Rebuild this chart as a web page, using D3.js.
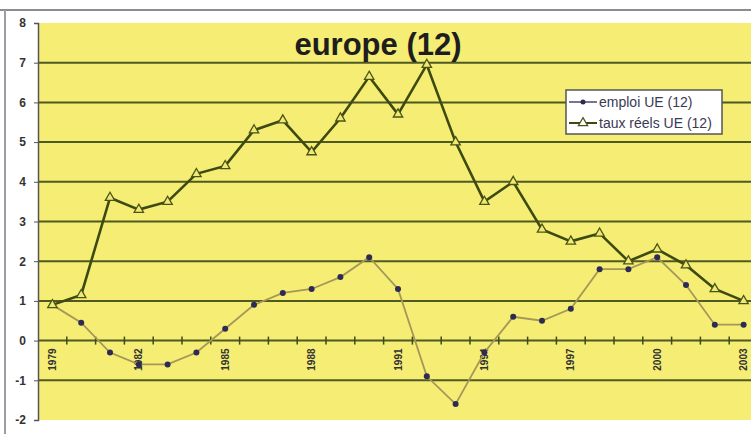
<!DOCTYPE html>
<html>
<head>
<meta charset="utf-8">
<script src="https://cdn.jsdelivr.net/npm/d3@7"></script>
<style>
  body { margin: 0; background: #fff; }
  svg { display: block; font-family: Arial, "Liberation Sans", sans-serif; }
</style>
</head>
<body>
<div id="chart"></div>
<script>
var years = d3.range(1979, 2004);
var emploi = [0.9, 0.45, -0.3, -0.6, -0.6, -0.3, 0.3, 0.9, 1.2, 1.3, 1.6, 2.1, 1.3, -0.9, -1.6,
              -0.3, 0.6, 0.5, 0.8, 1.8, 1.8, 2.1, 1.4, 0.4, 0.4];
var tauxReels = [0.9, 1.15, 3.6, 3.3, 3.5, 4.2, 4.4, 5.3, 5.55, 4.75, 5.6, 6.65, 5.7, 6.95, 5.0,
                 3.5, 4.0, 2.8, 2.5, 2.7, 2.0, 2.3, 1.9, 1.3, 1.0];
var yTicks = [-2, -1, 0, 1, 2, 3, 4, 5, 6, 7, 8];
var xLabels = [1979, 1982, 1985, 1988, 1991, 1994, 1997, 2000, 2003];
var seriesNames = ["emploi UE (12)", "taux réels UE (12)"];

var width = 751, height = 439;
var svg = d3.select("#chart").append("svg")
    .attr("width", width)
    .attr("height", height);

// outer frame
svg.append("line").attr("x1", 0).attr("x2", width).attr("y1", 10).attr("y2", 10)
  .attr("stroke", "#8a8d92").attr("stroke-width", 2);
svg.append("line").attr("x1", 5).attr("x2", 5).attr("y1", 10).attr("y2", 434)
  .attr("stroke", "#9a9da2").attr("stroke-width", 2);

var x = d3.scaleBand().domain(years).range([38, 38 + 25 * 28.8]);
var y = d3.scaleLinear().domain([-2, 8]).range([420, 23]);
var cx = function(i) { return x(years[i]) + x.bandwidth() / 2; };

// plot area
svg.append("rect")
  .attr("x", 38).attr("y", y(8))
  .attr("width", width - 38).attr("height", y(-2) - y(8))
  .attr("fill", "#f5ed74");

// gridlines
svg.append("g")
  .selectAll("line")
  .data(yTicks.filter(function(d) { return d > -2 && d < 8; }))
  .enter().append("line")
  .attr("x1", 38).attr("x2", width)
  .attr("y1", function(d) { return y(d); })
  .attr("y2", function(d) { return y(d); })
  .attr("stroke", "#4f5a22").attr("stroke-width", 2);

// y axis
var yAxis = svg.append("g")
  .attr("transform", "translate(38,0)")
  .call(d3.axisLeft(y).tickValues(yTicks).tickSize(4).tickPadding(8)
    .tickFormat(function(d) { return String(d); }));
yAxis.select(".domain").attr("stroke", "#555").attr("stroke-width", 1.5);
yAxis.selectAll(".tick line").attr("stroke", "#555");
yAxis.selectAll("text").attr("font-size", 12).attr("font-weight", "bold").attr("fill", "#333");

// x axis on zero
var xAxis = svg.append("g")
  .attr("transform", "translate(0," + y(0) + ")");
xAxis.selectAll("line.tk")
  .data(years.slice(1))
  .enter().append("line")
  .attr("class", "tk")
  .attr("x1", function(d) { return x(d); })
  .attr("x2", function(d) { return x(d); })
  .attr("y1", -4).attr("y2", 4)
  .attr("stroke", "#3e4a1a").attr("stroke-width", 1.5);
xAxis.selectAll("text")
  .data(xLabels)
  .enter().append("text")
  .attr("transform", function(d) {
    return "translate(" + (x(d) + x.bandwidth() / 2 + 3.5) + ",19) rotate(-90)";
  })
  .attr("text-anchor", "middle")
  .attr("font-size", 10)
  .attr("font-weight", "bold")
  .attr("fill", "#333")
  .text(function(d) { return d; });

// emploi line
var line = d3.line()
  .x(function(d, i) { return cx(i); })
  .y(function(d) { return y(d); });

svg.append("path")
  .datum(emploi)
  .attr("d", line)
  .attr("fill", "none")
  .attr("stroke", "#a39858")
  .attr("stroke-width", 1.8);
svg.append("g").selectAll("circle")
  .data(emploi)
  .enter().append("circle")
  .attr("cx", function(d, i) { return cx(i); })
  .attr("cy", function(d) { return y(d); })
  .attr("r", 3)
  .attr("fill", "#2e2a55");

// taux reels line
svg.append("path")
  .datum(tauxReels)
  .attr("d", line)
  .attr("fill", "none")
  .attr("stroke", "#3d4a12")
  .attr("stroke-width", 2.6);
var tri = d3.symbol().type(d3.symbolTriangle).size(38);
svg.append("g").selectAll("path")
  .data(tauxReels)
  .enter().append("path")
  .attr("d", tri)
  .attr("transform", function(d, i) { return "translate(" + cx(i) + "," + y(d) + ")"; })
  .attr("fill", "#f2ea70")
  .attr("stroke", "#4a5418")
  .attr("stroke-width", 1.3);

// title
svg.append("text")
  .attr("x", 378).attr("y", 55)
  .attr("text-anchor", "middle")
  .attr("font-size", 31)
  .attr("font-weight", "bold")
  .attr("fill", "#1e1e1e")
  .text("europe (12)");

// legend
var lg = svg.append("g").attr("transform", "translate(566,90)");
lg.append("rect").attr("width", 156).attr("height", 44)
  .attr("fill", "#fff").attr("stroke", "#555").attr("stroke-width", 1.5);
lg.append("line").attr("x1", 3).attr("x2", 31).attr("y1", 12).attr("y2", 12)
  .attr("stroke", "#2e2a55").attr("stroke-width", 1.3);
lg.append("circle").attr("cx", 17).attr("cy", 12).attr("r", 2.5).attr("fill", "#2e2a55");
lg.append("line").attr("x1", 3).attr("x2", 31).attr("y1", 33).attr("y2", 33)
  .attr("stroke", "#3d4a12").attr("stroke-width", 2);
lg.append("path").attr("d", tri).attr("transform", "translate(17,33)")
  .attr("fill", "#fff").attr("stroke", "#4a5418").attr("stroke-width", 1.2);
lg.selectAll("text")
  .data(seriesNames)
  .enter().append("text")
  .attr("x", 33)
  .attr("y", function(d, i) { return 17 + i * 21; })
  .attr("font-size", 14)
  .attr("fill", "#3a3a55")
  .text(function(d) { return d; });
</script>
</body>
</html>
